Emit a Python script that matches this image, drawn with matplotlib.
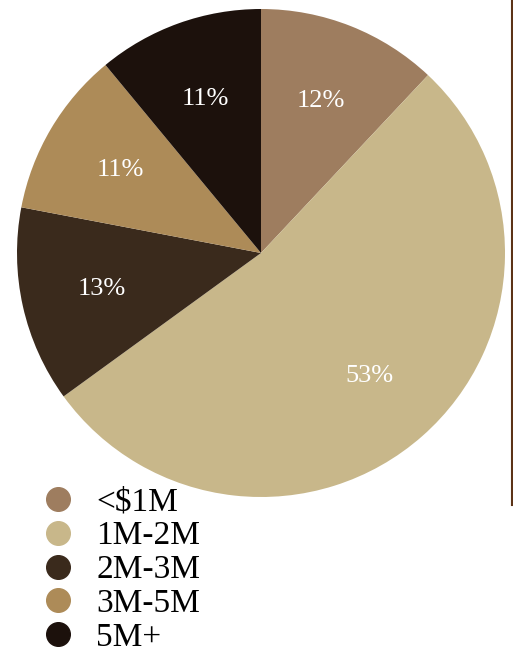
import matplotlib
matplotlib.use("Agg")
from matplotlib import pyplot as plt
from matplotlib.lines import Line2D

# data
categories = ["<$1M", "1M-2M", "2M-3M", "3M-5M", "5M+"]
shares = [12, 53, 13, 11, 11]
colors = ["#9E7D5F", "#C8B78A", "#3A2A1C", "#AD8B58", "#1C110C"]

plt.rcParams["font.family"] = ["Liberation Serif", "DejaVu Serif"]

W, H = 513, 653
fig = plt.figure(figsize=(W / 100, H / 100), dpi=100)

# pie centre (261, 253) px, radius 244 px
cx, cy, r = 261, 253, 244
ax = fig.add_axes([(cx - r) / W, 1 - (cy + r) / H, 2 * r / W, 2 * r / H])
wedges, texts, autotexts = ax.pie(
    shares, colors=colors, startangle=90, counterclock=False,
    autopct=lambda p: "{}%".format(int(round(p))), pctdistance=0.67, radius=1,
    textprops=dict(color="white", fontsize=19),
)
ax.set_xlim(-1, 1)
ax.set_ylim(-1, 1)
ax.set_aspect("equal")
ax.axis("off")

handles = [Line2D([], [], marker="o", linestyle="none", markersize=17,
                  markerfacecolor=c, markeredgecolor=c) for c in colors]
fig.legend(handles, categories, loc="upper left",
           bbox_to_anchor=(38 / W, 1 - 487 / H), frameon=False,
           fontsize=24, labelspacing=0.1, handletextpad=0.55,
           handlelength=1.2, borderpad=0, borderaxespad=0)

# thin rule on the right edge
fig.add_artist(Line2D([511.8 / W, 511.8 / W], [1 - 505 / H, 1], color="#5C3317",
                      linewidth=1.5, transform=fig.transFigure))

fig.savefig("out.png", dpi=100)
